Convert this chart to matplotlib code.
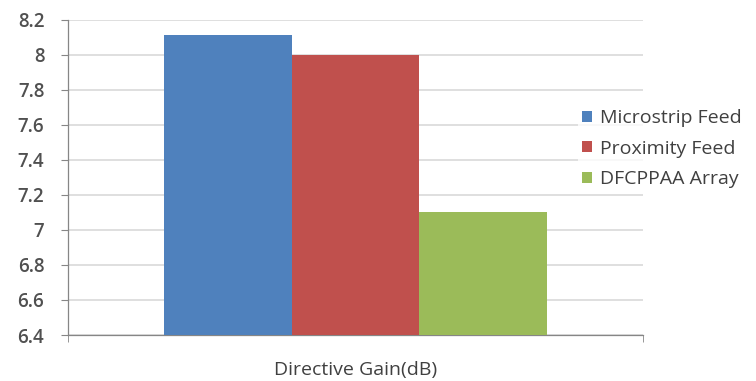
import matplotlib
matplotlib.use("Agg")
import matplotlib.pyplot as plt
import numpy as np

plt.rcParams['font.family'] = ['Open Sans', 'DejaVu Sans']

category = "Directive Gain(dB)"
series_names = ["Microstrip Feed", "Proximity Feed", "DFCPPAA Array"]
series_values = [8.11, 8.0, 7.1]
series_colors = ["#4F81BD", "#C0504D", "#9BBB59"]
y_ticks = [6.4, 6.6, 6.8, 7.0, 7.2, 7.4, 7.6, 7.8, 8.0, 8.2]
y_tick_labels = ["6.4", "6.6", "6.8", "7", "7.2", "7.4", "7.6", "7.8", "8", "8.2"]

fig = plt.figure(figsize=(7.56, 3.81), dpi=100)
ax = fig.add_axes([0.0899, 0.1207, 0.7606, 0.8281])

n = len(series_values)
group_width = 1 / 1.5
bar_w = group_width / n
offsets = (np.arange(n) - (n - 1) / 2) * bar_w
bars = []
for off, val, col, name in zip(offsets, series_values, series_colors, series_names):
    b = ax.bar(off, val - y_ticks[0], bottom=y_ticks[0], width=bar_w,
               color=col, label=name, zorder=3)
    bars.append(b)

ax.set_xlim(-0.5, 0.5)
ax.set_ylim(y_ticks[0], y_ticks[-1])
ax.set_yticks(y_ticks)
ax.set_yticklabels(y_tick_labels)

grid_col = "#d9d9d9"
axis_col = "#868686"
ax.yaxis.grid(True, color=grid_col, linewidth=1.2, zorder=0)
ax.set_axisbelow(True)
for s in ("top", "right"):
    ax.spines[s].set_visible(False)
ax.spines["left"].set_color(axis_col)
ax.spines["bottom"].set_color(axis_col)
ax.spines["left"].set_linewidth(0.9)
ax.spines["bottom"].set_linewidth(0.9)

ax.tick_params(axis="y", direction="out", length=5, color=axis_col,
               labelsize=13.5, labelcolor="#505050", pad=12)
ax.set_xticks([0])
ax.set_xticklabels([category])
ax.set_xticks([-0.5, 0.5], minor=True)
ax.tick_params(axis="x", which="major", length=0, labelsize=14,
               labelcolor="#404040", pad=19)
ax.tick_params(axis="x", which="minor", direction="out", length=5, color=axis_col)
for t in ax.get_yticklabels():
    t.set_fontweight("semibold")

leg = fig.legend(handles=[b[0] for b in bars], labels=series_names,
                 loc="center left", bbox_to_anchor=(0.752, 0.61),
                 frameon=True, facecolor="white", edgecolor="none",
                 fontsize=14, labelcolor="#404040",
                 handlelength=0.5, handleheight=0.5, handletextpad=0.4,
                 labelspacing=0.65, borderpad=0.2)
leg.set_zorder(5)

fig.savefig("out.png", dpi=100)
